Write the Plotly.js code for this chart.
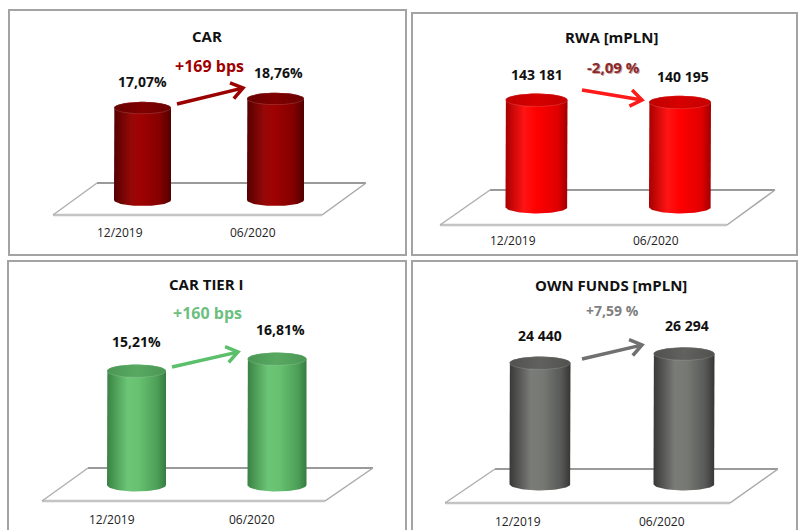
<!DOCTYPE html>
<html>
<head>
<meta charset="utf-8">
<script src="https://cdn.plot.ly/plotly-3.0.1.min.js"></script>
<style>html,body{margin:0;padding:0;background:#fff;}#chart{width:798px;height:530px;}</style>
</head>
<body>
<div id="chart"></div>
<script>
// ---- data ----
const categories = ['12/2019', '06/2020'];
const carValues = [17.07, 18.76];
const rwaValues = [143181, 140195];
const tier1Values = [15.21, 16.81];
const ownFundsValues = [24440, 26294];
const panelTitles = ['CAR', 'RWA [mPLN]', 'CAR TIER I', 'OWN FUNDS [mPLN]'];
const changeLabels = ['+169 bps', '-2,09 %', '+160 bps', '+7,59 %'];
const valueKinds = ['pct', 'int', 'pct', 'int'];

const seriesValues = [carValues, rwaValues, tier1Values, ownFundsValues];

function fmt(v, kind) {
  if (kind === 'pct') return v.toFixed(2).replace('.', ',') + '%';
  return String(Math.round(v)).replace(/\B(?=(\d{3})+(?!\d))/g, ' ');
}

// ---- geometry / styles (pixels) ----
const W = 798, H = 530;
const px = x => x / W;
const py = y => 1 - y / H;
const FONT = 'Open Sans, Noto Sans, sans-serif';

const geo = [
  {L:9, T:10, R:406, B:255, c:[142.5,275.5], half:28.5, y0:200, ppu:5.4, ry:6,
   back:[97,366,183], front:[53,322,215], title:[207,36], change:[209,66], arrow:[177,104,243,88],
   catY:232, catShift:-23, lblShift:26,
   body:[[0,'#560000'],[0.3,'#950808'],[0.45,'#a00202'],[0.8,'#850000'],[1,'#520000']],
   top:[[0,'#680000'],[0.5,'#800000'],[1,'#6a0000']], arrowColor:'#9b0000', changeColor:'#a00000'},
  {L:412, T:13, R:797, B:255, c:[536.5,680], half:31, y0:207, ppu:107/143181, ry:6.5,
   back:[490,775,190], front:[440,727,225], title:[611,37], change:[613,67], arrow:[582,90,642,100],
   catY:240, catShift:-24, lblShift:26,
   body:[[0,'#a80000'],[0.3,'#ff1414'],[0.5,'#ff0000'],[0.85,'#e00000'],[1,'#a00000']],
   top:[[0,'#c00000'],[0.5,'#d60000'],[1,'#c40000']], arrowColor:'#ff1a1a', changeColor:'#8b2a2a'},
  {L:8, T:261, R:406, B:540, c:[136.5,277], half:29.5, y0:485, ppu:7.5, ry:6.5,
   back:[88,373,468], front:[42,325,501], title:[206,284], change:[207,313], arrow:[172,367,238,352],
   catY:519, catShift:-25, lblShift:29,
   body:[[0,'#3a8244'],[0.35,'#6cc676'],[0.55,'#66c070'],[0.85,'#4d9f58'],[1,'#367c40']],
   top:[[0,'#4a9754'],[0.5,'#58a862'],[1,'#4a9754']], arrowColor:'#5cbf6c', changeColor:'#6cbf80'},
  {L:412, T:261, R:797, B:540, c:[540,684], half:30.5, y0:484, ppu:121/24440, ry:6.5,
   back:[495,778,469], front:[445,730,503], title:[611,285], change:[612,310], arrow:[582,359,642,345],
   catY:521, catShift:-22, lblShift:28,
   body:[[0,'#383838'],[0.35,'#7a7c78'],[0.55,'#767873'],[0.85,'#585957'],[1,'#353535']],
   top:[[0,'#515250'],[0.5,'#61625f'],[1,'#515250']], arrowColor:'#707070', changeColor:'#7f7f7f'}
];

const layout = {
  width: W, height: H,
  margin: {l:0, r:0, t:0, b:0},
  paper_bgcolor: '#ffffff',
  plot_bgcolor: 'rgba(0,0,0,0)',
  showlegend: false,
  font: {family: FONT},
  shapes: [], annotations: []
};
const traces = [];

geo.forEach((g, k) => {
  const n = k === 0 ? '' : String(k + 1);
  const xa = 'xaxis' + n, ya = 'yaxis' + n, xr = 'x' + n, yr = 'y' + n;
  const span = g.c[1] - g.c[0];
  const pB = g.y0 + 25, pT = g.T + 2;
  layout[xa] = {domain:[px(g.L), px(g.R)], range:[(g.L - g.c[0]) / span, (g.R - g.c[0]) / span],
                visible:false, fixedrange:true, anchor: yr};
  layout[ya] = {domain:[py(Math.min(pB, H)), py(pT)], range:[(g.y0 - Math.min(pB, H)) / g.ppu, (g.y0 - pT) / g.ppu],
                visible:false, fixedrange:true, anchor: xr};

  // panel border
  layout.shapes.push({type:'rect', xref:'paper', yref:'paper', x0:px(g.L), x1:px(g.R), y0:py(Math.min(g.B, H + 5)), y1:py(g.T),
    line:{color:'#a3a3a3', width:2}, fillcolor:'rgba(0,0,0,0)', layer:'below'});
  // floor
  const [bx0, bx1, by] = g.back, [fx0, fx1, fy] = g.front;
  layout.shapes.push({type:'path', xref:'paper', yref:'paper', layer:'below',
    path:`M${px(bx0)},${py(by)} L${px(bx1)},${py(by)} L${px(fx1)},${py(fy)} L${px(fx0)},${py(fy)} Z`,
    fillcolor:'#ffffff', line:{width:0}});
  layout.shapes.push({type:'line', xref:'paper', yref:'paper', layer:'below',
    x0:px(bx0), x1:px(bx1), y0:py(by), y1:py(by), line:{color:'#9a9a9a', width:2}});
  layout.shapes.push({type:'line', xref:'paper', yref:'paper', layer:'below',
    x0:px(fx0), x1:px(fx1), y0:py(fy), y1:py(fy), line:{color:'#c4c4c4', width:2.5}});
  layout.shapes.push({type:'line', xref:'paper', yref:'paper', layer:'below',
    x0:px(bx0), x1:px(fx0), y0:py(by), y1:py(fy), line:{color:'#b0b0b0', width:1.5}});
  layout.shapes.push({type:'line', xref:'paper', yref:'paper', layer:'below',
    x0:px(bx1), x1:px(fx1), y0:py(by), y1:py(fy), line:{color:'#a8a8a8', width:1.5}});

  // arrow
  const [ax0, ay0, ax1, ay1] = g.arrow;
  const ang = Math.atan2(ay1 - ay0, ax1 - ax0);
  const hl = 14, ha = 0.62;
  const h1x = ax1 - hl * Math.cos(ang - ha), h1y = ay1 - hl * Math.sin(ang - ha);
  const h2x = ax1 - hl * Math.cos(ang + ha), h2y = ay1 - hl * Math.sin(ang + ha);
  layout.shapes.push({type:'path', xref:'paper', yref:'paper', layer:'above',
    path:`M${px(ax0)},${py(ay0)} L${px(ax1 - 1.5*Math.cos(ang))},${py(ay1 - 1.5*Math.sin(ang))} M${px(h1x)},${py(h1y)} L${px(ax1)},${py(ay1)} L${px(h2x)},${py(h2y)}`,
    line:{color:g.arrowColor, width:3.5}});

  // title
  layout.annotations.push({xref:'paper', yref:'paper', x:px(g.title[0]), y:py(g.title[1]), text:'<b>' + panelTitles[k] + '</b>',
    showarrow:false, xanchor:'center', yanchor:'middle', font:{family:FONT, size:15, color:'#111111'}});
  // change label
  if (k === 1) {
    layout.annotations.push({xref:'paper', yref:'paper', x:px(g.change[0] + 1), y:py(g.change[1] + 1), text:'<b>' + changeLabels[k] + '</b>',
      showarrow:false, xanchor:'center', yanchor:'middle', font:{family:FONT, size:15, color:'#c9a5a5'}});
  }
  layout.annotations.push({xref:'paper', yref:'paper', x:px(g.change[0]), y:py(g.change[1]), text:'<b>' + changeLabels[k] + '</b>',
    showarrow:false, xanchor:'center', yanchor:'middle',
    font:{family:FONT, size:(k === 0 || k === 2) ? 16 : (k === 1 ? 15 : 14), color:g.changeColor}});

  // cylinders
  const vals = seriesValues[k];
  const w = g.half / span;
  const ry = g.ry / g.ppu;
  vals.forEach((v, i) => {
    const xs = [], ys = [];
    const N = 40;
    xs.push(i - w); ys.push(0);
    xs.push(i - w); ys.push(v);
    for (let j = 0; j <= N; j++) { const t = Math.PI - Math.PI * j / N; xs.push(i + w * Math.cos(t)); ys.push(v + ry * Math.sin(t)); }
    xs.push(i + w); ys.push(0);
    for (let j = 0; j <= N; j++) { const t = -Math.PI * j / N; xs.push(i + w * Math.cos(t)); ys.push(ry * Math.sin(t)); }
    traces.push({type:'scatter', mode:'lines', xaxis:xr, yaxis:yr, x:xs, y:ys, fill:'toself',
      fillgradient:{type:'horizontal', colorscale:g.body, start:i - w, stop:i + w},
      line:{width:0, color:'rgba(0,0,0,0)'}, hoverinfo:'skip'});
    const ex = [], ey = [];
    for (let j = 0; j <= 2 * N; j++) { const t = 2 * Math.PI * j / (2 * N); ex.push(i + w * Math.cos(t)); ey.push(v + ry * Math.sin(t)); }
    traces.push({type:'scatter', mode:'lines', xaxis:xr, yaxis:yr, x:ex, y:ey, fill:'toself',
      fillgradient:{type:'horizontal', colorscale:g.top, start:i - w, stop:i + w},
      line:{width:0.8, color:'rgba(255,255,255,0.18)'}, hoverinfo:'skip'});
    // value label
    layout.annotations.push({xref:xr, yref:yr, x:i, y:v, yshift:g.lblShift, xshift: i === 0 ? 0 : 3,
      text:'<b>' + fmt(v, valueKinds[k]) + '</b>', showarrow:false, xanchor:'center', yanchor:'middle',
      font:{family:FONT, size:14, color:'#111111'}});
    // category label
    layout.annotations.push({xref:xr, yref:'paper', x:i, y:py(g.catY), xshift:g.catShift,
      text:categories[i], showarrow:false, xanchor:'center', yanchor:'middle',
      font:{family:FONT, size:12, color:'#222222'}});
  });
});

Plotly.newPlot('chart', traces, layout, {displayModeBar:false, staticPlot:true});
</script>
</body>
</html>
